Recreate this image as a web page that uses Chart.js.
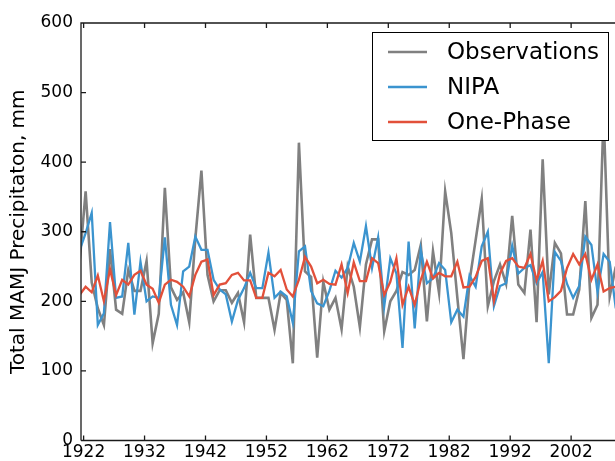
<!DOCTYPE html>
<html>
<head>
<meta charset="utf-8">
<script src="https://cdn.jsdelivr.net/npm/chart.js@4/dist/chart.umd.min.js"></script>
<style>
  html, body { margin: 0; padding: 0; background: #ffffff; }
  #wrap { width: 615px; height: 461px; }
</style>
</head>
<body>
<div id="wrap"><canvas id="c" width="615" height="461"></canvas></div>
<script>
// ---- data ----
const years = [
  1921,1922,1923,1924,1925,1926,1927,1928,1929,1930,
  1931,1932,1933,1934,1935,1936,1937,1938,1939,1940,
  1941,1942,1943,1944,1945,1946,1947,1948,1949,1950,
  1951,1952,1953,1954,1955,1956,1957,1958,1959,1960,
  1961,1962,1963,1964,1965,1966,1967,1968,1969,1970,
  1971,1972,1973,1974,1975,1976,1977,1978,1979,1980,
  1981,1982,1983,1984,1985,1986,1987,1988,1989,1990,
  1991,1992,1993,1994,1995,1996,1997,1998,1999,2000,
  2001,2002,2003,2004,2005,2006,2007,2008,2009
];
const observations = [
  255,358,227,190,166,275,188,182,245,215,
  215,258,140,182,363,220,202,213,170,290,
  388,238,200,216,216,198,212,170,296,205,
  205,205,159,212,202,111,428,243,235,119,
  228,188,205,160,250,221,163,253,289,289,
  157,200,215,242,238,245,281,171,272,212,
  358,298,205,117,229,288,347,193,229,253,
  225,323,224,212,303,170,404,210,284,269,
  181,181,217,344,176,195,470,207,250
];
const nipa = [
  273,298,327,166,183,314,205,207,284,181,
  257,200,207,205,292,195,166,243,250,293,
  274,274,231,217,210,171,202,219,241,219,
  219,270,205,214,207,169,272,279,215,197,
  193,215,244,234,248,284,257,308,248,292,
  193,262,240,133,286,161,274,226,233,255,
  245,170,188,178,237,221,279,300,193,222,
  226,280,240,248,252,226,242,111,271,258,
  225,205,222,293,281,213,268,257,190
];
const onePhase = [
  209,221,213,237,200,246,209,231,224,238,
  244,224,218,198,224,231,228,221,207,238,
  257,260,209,224,226,238,241,230,230,205,
  205,241,236,245,217,207,231,264,250,226,
  231,225,224,253,212,256,229,229,262,255,
  209,228,262,195,221,195,231,257,233,241,
  236,236,257,220,221,235,258,262,200,240,
  258,262,250,248,268,230,258,200,206,215,
  248,268,253,268,231,253,214,219,221
];
const seriesNames = ['Observations', 'NIPA', 'One-Phase'];
const xTickYears = [1922, 1932, 1942, 1952, 1962, 1972, 1982, 1992, 2002];
const yTicks = [0, 100, 200, 300, 400, 500, 600];
const yTitle = 'Total MAMJ Precipitaton, mm';
// MAMJ season midpoint (about May 1) as a fraction of the calendar year
const seasonOffset = 0.33;

// ---- styles ----
const colors = ['#808080', '#3b94cf', '#e2503a'];
const widths = [2.6, 2.3, 2.3];
const FONT = "'DejaVu Sans', 'Liberation Sans', sans-serif";

function toPoints(vals) {
  return years.map((yr, i) => ({ x: yr + seasonOffset, y: vals[i] }));
}

const seriesValues = [observations, nipa, onePhase];
const datasets = seriesValues.map((vals, i) => ({
  label: seriesNames[i],
  data: toPoints(vals),
  borderColor: colors[i],
  backgroundColor: colors[i],
  borderWidth: widths[i],
  pointRadius: 0,
  tension: 0,
  fill: false,
  clip: 0,
  order: seriesValues.length - 1 - i
}));

const framePlugin = {
  id: 'mplFrame',
  afterDatasetsDraw(chart) {
    const { ctx, chartArea: a, scales } = chart;
    const xs = scales.x, ys = scales.y;
    ctx.save();
    ctx.strokeStyle = '#1a1a1a';
    ctx.lineWidth = 1.3;
    ctx.beginPath();
    // spines: left, top, bottom (right spine lies beyond the picture)
    ctx.moveTo(a.left, a.bottom); ctx.lineTo(a.left, a.top);
    ctx.lineTo(a.right + 2, a.top);
    ctx.moveTo(a.left, a.bottom); ctx.lineTo(a.right + 2, a.bottom);
    // inward ticks
    yTicks.forEach(v => {
      const py = ys.getPixelForValue(v);
      ctx.moveTo(a.left, py); ctx.lineTo(a.left + 5, py);
    });
    xTickYears.forEach(v => {
      const px = xs.getPixelForValue(v);
      ctx.moveTo(px, a.bottom); ctx.lineTo(px, a.bottom - 5);
      ctx.moveTo(px, a.top); ctx.lineTo(px, a.top + 5);
    });
    ctx.stroke();

    // legend box (upper right, matplotlib style)
    const box = { left: 372, top: 32, right: 608, bottom: 140 };
    ctx.fillStyle = '#ffffff';
    ctx.fillRect(box.left, box.top, box.right - box.left, box.bottom - box.top);
    ctx.strokeStyle = '#000000';
    ctx.lineWidth = 1;
    ctx.strokeRect(box.left + 0.5, box.top + 0.5, box.right - box.left, box.bottom - box.top);
    const rowY = [52, 87, 122];
    chart.data.datasets.forEach((ds, i) => {
      ctx.strokeStyle = ds.borderColor;
      ctx.lineWidth = ds.borderWidth;
      ctx.beginPath();
      ctx.moveTo(388, rowY[i]); ctx.lineTo(427, rowY[i]);
      ctx.stroke();
      ctx.fillStyle = '#000000';
      ctx.font = '23px ' + FONT;
      ctx.textAlign = 'left';
      ctx.textBaseline = 'middle';
      ctx.fillText(ds.label, 447, rowY[i] + 1);
    });
    ctx.restore();
  }
};

new Chart(document.getElementById('c'), {
  type: 'line',
  data: { datasets },
  options: {
    responsive: false,
    devicePixelRatio: 1,
    animation: false,
    layout: { padding: { top: 23, right: 0, left: 0, bottom: 0 } },
    plugins: { legend: { display: false }, tooltip: { enabled: false } },
    scales: {
      x: {
        type: 'linear',
        min: 1921.57,
        max: 2009.2,
        grid: { display: false, drawTicks: false },
        border: { display: false },
        afterBuildTicks: s => { s.ticks = xTickYears.map(v => ({ value: v })); },
        afterFit: s => { s.height = 20.5; },
        ticks: {
          padding: 2,
          maxRotation: 0,
          autoSkip: false,
          color: '#000000',
          font: { family: FONT, size: 17 },
          callback: v => String(v)
        }
      },
      y: {
        type: 'linear',
        min: 0,
        max: 600,
        grid: { display: false, drawTicks: false },
        border: { display: false },
        afterBuildTicks: s => { s.ticks = yTicks.map(v => ({ value: v })); },
        afterFit: s => { s.width = 81; },
        title: {
          display: true,
          text: yTitle,
          color: '#000000',
          font: { family: FONT, size: 20 },
          padding: { top: 7, bottom: 0 }
        },
        ticks: {
          padding: 8,
          color: '#000000',
          font: { family: FONT, size: 17 },
          callback: v => String(v)
        }
      }
    }
  },
  plugins: [framePlugin]
});
</script>
</body>
</html>
